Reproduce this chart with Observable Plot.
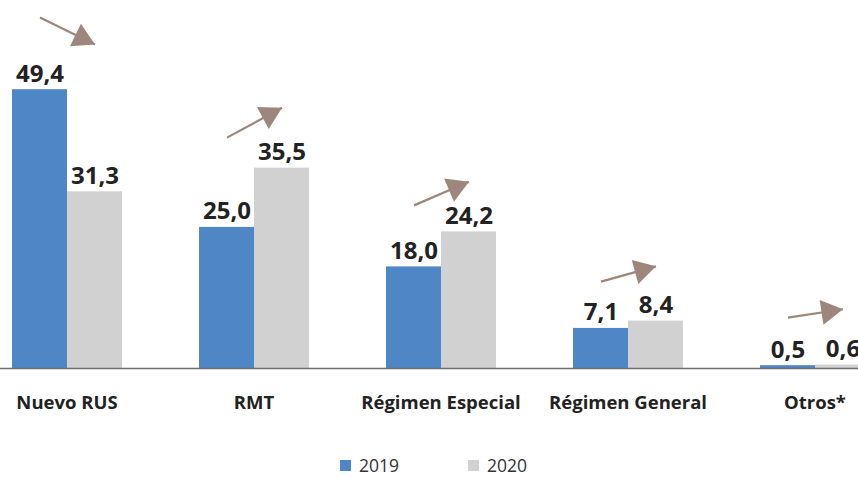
<!DOCTYPE html>
<html>
<head>
<meta charset="utf-8">
<script src="https://cdn.jsdelivr.net/npm/d3@7"></script>
<script src="https://cdn.jsdelivr.net/npm/@observablehq/plot@0.6"></script>
<style>
  html, body { margin: 0; padding: 0; background: #fff; overflow: hidden; width: 858px; height: 478px; }
  #chart { position: absolute; left: -27.5px; top: 0; width: 935px; }
  #chart svg { display: block; max-width: none !important; width: 935px; }
  #legend { position: absolute; top: 455px; left: 0; width: 858px; height: 20px;
    font-family: "Open Sans", sans-serif; font-size: 17.5px; line-height: 20px; color: #333; }
  .item { position: absolute; top: 0; display: flex; align-items: center; height: 20px; }
  .sw { width: 11px; height: 11px; margin-right: 8px; }
</style>
</head>
<body>
<div id="chart"></div>
<div id="legend"></div>
<script>
const categories = ["Nuevo RUS", "RMT", "Régimen Especial", "Régimen General", "Otros*"];
const years = ["2019", "2020"];
const values2019 = [49.4, 25.0, 18.0, 7.1, 0.5];
const values2020 = [31.3, 35.5, 24.2, 8.4, 0.6];
// arrow annotation levels (in value units)
const arrowFrom = [62.2, 40.9, 28.9, 15.4, 9.0];
const arrowTo   = [57.4, 46.2, 33.1, 18.1, 10.5];
const colors = ["#4f86c6", "#d0d1d0"];
const arrowColor = "#9d867b";

const W = 935, H = 420, MB = 52, nCat = categories.length;
const yDomain = [0, 65.2];
const xPadOuter = 0.67;

const rows = categories.flatMap((c, i) => [
  {cat: c, year: years[0], value: values2019[i]},
  {cat: c, year: years[1], value: values2020[i]}
]);

// helper scales (same as the plot's) to orient the arrow heads
const yS = Plot.scale({y: {domain: yDomain, range: [H - MB, 0]}});
const xS = Plot.scale({x: {type: "band", domain: years, range: [0, W / nCat], paddingInner: 0, paddingOuter: xPadOuter}});
const arrows = categories.map((c, i) => {
  const dxp = xS.apply(years[1]) - xS.apply(years[0]);
  const dyp = yS.apply(arrowTo[i]) - yS.apply(arrowFrom[i]);
  return {cat: c, from: arrowFrom[i], to: arrowTo[i], rot: Math.atan2(dyp, dxp) * 180 / Math.PI + 90};
});

// triangle symbol whose tip sits at the origin, pointing up
const tipTriangle = {
  draw(context, size) {
    const s = Math.sqrt(size * 4 / Math.sqrt(3));
    const h = s * Math.sqrt(3) / 2;
    context.moveTo(0, 0);
    context.lineTo(s / 2, h);
    context.lineTo(-s / 2, h);
    context.closePath();
  }
};

const fmt = v => d3.format(".1f")(v).replace(".", ",");

const chart = Plot.plot({
  width: W,
  height: H,
  marginLeft: 0,
  marginRight: 0,
  marginTop: 0,
  marginBottom: MB,
  style: {fontFamily: "'Open Sans', sans-serif", fontSize: "18.5px", fontWeight: "bold", color: "#222", background: "#fff"},
  fx: {domain: categories, padding: 0, axis: "bottom", tickSize: 0, tickPadding: 27, label: null},
  x: {domain: years, paddingInner: 0, paddingOuter: xPadOuter, axis: null, label: null},
  y: {domain: yDomain, axis: null},
  color: {domain: years, range: colors},
  marks: [
    Plot.barY(rows, {fx: "cat", x: "year", y: "value", fill: "year"}),
    Plot.ruleY([0], {stroke: "#6e6e6e", strokeWidth: 1.6}),
    Plot.text(rows, {fx: "cat", x: "year", y: "value", text: d => fmt(d.value),
      lineAnchor: "bottom", dy: -8, fontSize: 24, fontWeight: "bold", fill: "#222"}),
    Plot.link(arrows, {fx: "cat", x1: () => years[0], x2: () => years[1], y1: "from", y2: "to",
      stroke: arrowColor, strokeWidth: 2.2}),
    Plot.dot(arrows, {fx: "cat", x: () => years[1], y: "to", rotate: "rot", symbol: tipTriangle,
      r: 9.3, fill: arrowColor, stroke: "none"})
  ]
});
document.getElementById("chart").appendChild(chart);

const legend = document.getElementById("legend");
const lx = [340, 468];
years.forEach((y, i) => {
  const it = document.createElement("div");
  it.className = "item";
  it.style.left = lx[i] + "px";
  it.innerHTML = `<span class="sw" style="background:${colors[i]}"></span><span>${y}</span>`;
  legend.appendChild(it);
});
</script>
</body>
</html>
